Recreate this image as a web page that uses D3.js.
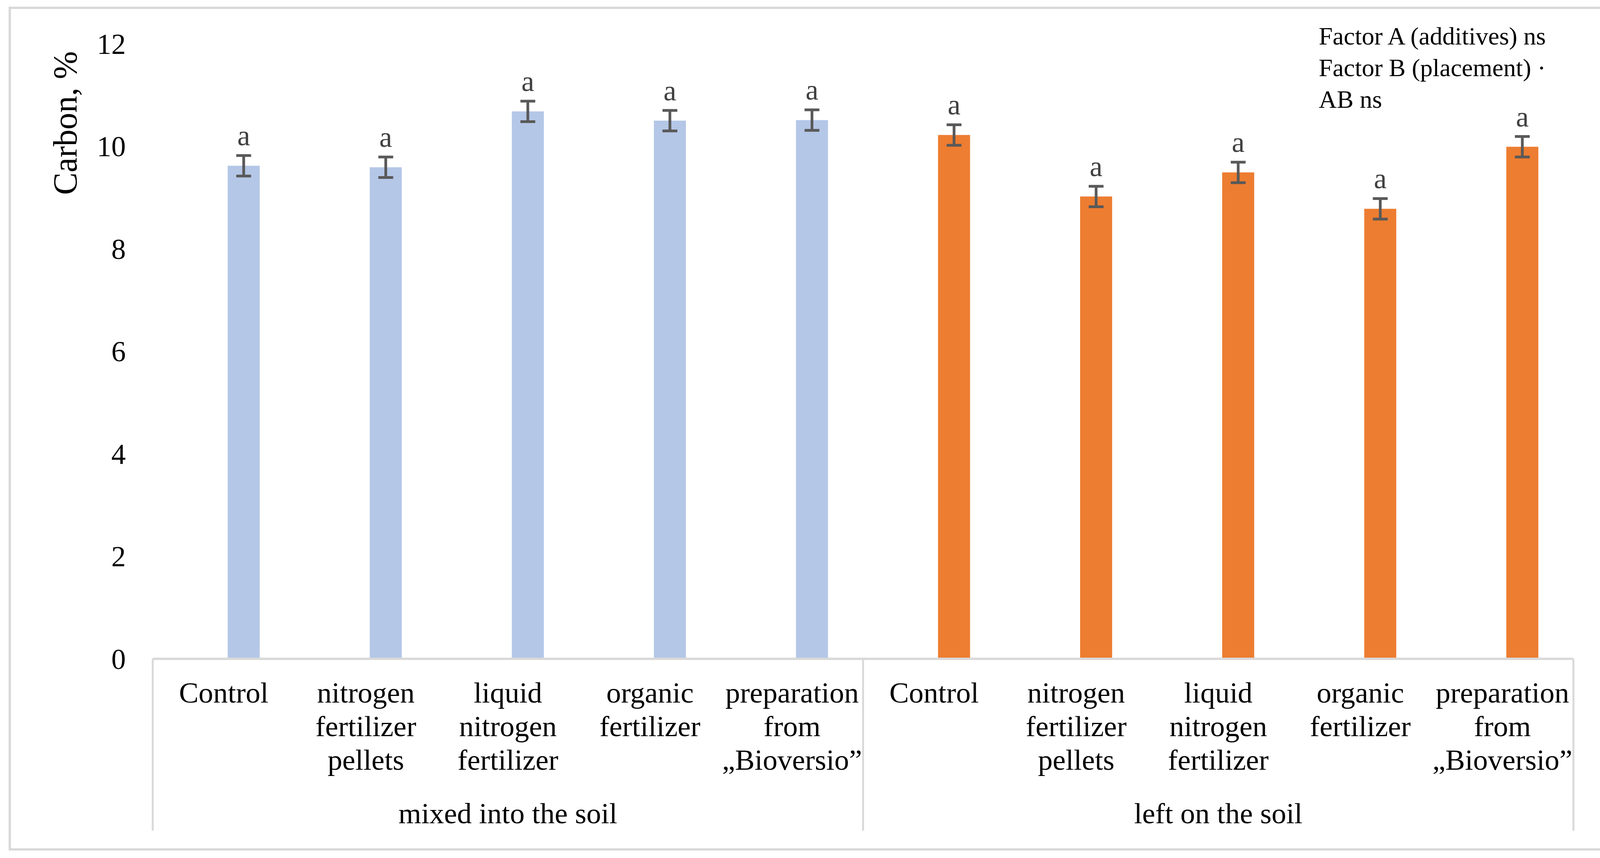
<!DOCTYPE html>
<html lang="en">
<head>
<meta charset="utf-8">
<title>Carbon, %</title>
<script src="https://d3js.org/d3.v7.min.js"></script>
<style>
  body { margin: 0; background: #fff; overflow: hidden; }
  svg { display: block; }
  svg text { font-family: "Liberation Serif", "Times New Roman", serif; }
</style>
</head>
<body>
<div id="chart"></div>
<script>
// Data
var categories = [
  ["Control"],
  ["nitrogen", "fertilizer", "pellets"],
  ["liquid", "nitrogen", "fertilizer"],
  ["organic", "fertilizer"],
  ["preparation", "from", "\u201EBioversio\u201D"]
];
var groups = ["mixed into the soil", "left on the soil"];
var mixedValues = [9.62, 9.59, 10.68, 10.50, 10.51];
var leftValues = [10.22, 9.02, 9.49, 8.78, 9.99];
var errors = [0.2, 0.2, 0.2, 0.2, 0.2, 0.2, 0.2, 0.2, 0.2, 0.2];
var letters = ["a", "a", "a", "a", "a", "a", "a", "a", "a", "a"];
var yTicks = [0, 2, 4, 6, 8, 10, 12];
var statsLines = ["Factor A (additives) ns", "Factor B (placement) \u00B7", "AB ns"];

var width = 4139, height = 2197;
var colours = ["#B4C7E7", "#ED7D31"];
var lineGrey = "#D9D9D9";

// Flatten to one row per bar
var rows = [];
groups.forEach(function(g, gi) {
    var vals = gi === 0 ? mixedValues : leftValues;
    categories.forEach(function(c, ci) {
        rows.push({group: gi, label: c, value: vals[ci]});
    });
});
rows.forEach(function(d, i) { d.err = errors[i]; d.letter = letters[i]; d.idx = i; });

var svg = d3.select("#chart").append("svg")
    .attr("width", width)
    .attr("height", height);

// Outer chart border
svg.append("rect")
    .attr("x", 25).attr("y", 20)
    .attr("width", 4088).attr("height", 2155)
    .attr("fill", "#fff")
    .attr("stroke", lineGrey)
    .attr("stroke-width", 6);

var x = d3.scaleBand()
    .domain(d3.range(rows.length))
    .range([391, 4028])
    .padding(0);

var y = d3.scaleLinear()
    .domain([0, 12])
    .range([1687, 112]);

var barWidth = 82;
var barShift = 51;   // bars sit a little right of the category centre
function barCentre(i) { return x(i) + x.bandwidth() / 2 + barShift; }

// Y tick labels (no axis line)
var yAxis = d3.axisLeft(y).tickValues(yTicks).tickSize(0).tickPadding(0);
var yg = svg.append("g")
    .attr("transform", "translate(322,0)")
    .call(yAxis);
yg.select(".domain").remove();
yg.selectAll("text")
    .attr("font-family", "Liberation Serif")
    .attr("font-size", 74)
    .attr("fill", "#000")
    .attr("dy", "0.34em");

// Y axis title
svg.append("text")
    .attr("transform", "translate(196,315) rotate(-90)")
    .attr("text-anchor", "middle")
    .attr("font-size", 86)
    .attr("fill", "#000")
    .text("Carbon, %");

// Bars
svg.append("g").selectAll("rect")
    .data(rows)
    .join("rect")
    .attr("x", function(d) { return barCentre(d.idx) - barWidth / 2; })
    .attr("y", function(d) { return y(d.value); })
    .attr("width", barWidth)
    .attr("height", function(d) { return y(0) - y(d.value); })
    .attr("fill", function(d) { return colours[d.group]; });

// Error bars
var eg = svg.append("g").attr("stroke", "#595959").attr("stroke-width", 7);
rows.forEach(function(d) {
    var cx = barCentre(d.idx);
    var top = y(d.value + d.err), bot = y(d.value - d.err);
    eg.append("line").attr("x1", cx).attr("x2", cx).attr("y1", top).attr("y2", bot);
    eg.append("line").attr("x1", cx - 19).attr("x2", cx + 19).attr("y1", top).attr("y2", top);
    eg.append("line").attr("x1", cx - 19).attr("x2", cx + 19).attr("y1", bot).attr("y2", bot);
});

// Significance letters
svg.append("g").selectAll("text")
    .data(rows)
    .join("text")
    .attr("x", function(d) { return barCentre(d.idx); })
    .attr("y", function(d) { return y(d.value + d.err) - 26; })
    .attr("text-anchor", "middle")
    .attr("font-size", 74)
    .attr("fill", "#404040")
    .text(function(d) { return d.letter; });

// Category axis: line along zero and group dividers
var axisBottom = 2127;
svg.append("line")
    .attr("x1", x.range()[0]).attr("x2", x.range()[1])
    .attr("y1", y(0)).attr("y2", y(0))
    .attr("stroke", lineGrey).attr("stroke-width", 6);
var dividers = [0, categories.length, rows.length].map(function(i) {
    return i < rows.length ? x(i) : x.range()[1];
});
svg.append("g").selectAll("line")
    .data(dividers)
    .join("line")
    .attr("x1", function(d) { return d; }).attr("x2", function(d) { return d; })
    .attr("y1", y(0)).attr("y2", axisBottom)
    .attr("stroke", lineGrey).attr("stroke-width", 5);

// Category labels
var lab = svg.append("g").selectAll("text")
    .data(rows)
    .join("text")
    .attr("x", function(d) { return x(d.idx) + x.bandwidth() / 2; })
    .attr("y", 1799)
    .attr("text-anchor", "middle")
    .attr("font-size", 75)
    .attr("fill", "#000");
lab.selectAll("tspan")
    .data(function(d) { return d.label.map(function(t) { return {t: t, x: x(d.idx) + x.bandwidth() / 2}; }); })
    .join("tspan")
    .attr("x", function(d) { return d.x; })
    .attr("dy", function(d, i) { return i === 0 ? 0 : 86; })
    .text(function(d) { return d.t; });

// Group labels
svg.append("g").selectAll("text")
    .data(groups)
    .join("text")
    .attr("x", function(d, i) { return (dividers[i] + dividers[i + 1]) / 2; })
    .attr("y", 2108)
    .attr("text-anchor", "middle")
    .attr("font-size", 75)
    .attr("fill", "#000")
    .text(function(d) { return d; });

// Statistics note
svg.append("g").selectAll("text")
    .data(statsLines)
    .join("text")
    .attr("x", 3376)
    .attr("y", function(d, i) { return 114 + i * 81; })
    .attr("font-size", 64)
    .attr("fill", "#000")
    .text(function(d) { return d; });
</script>
</body>
</html>
